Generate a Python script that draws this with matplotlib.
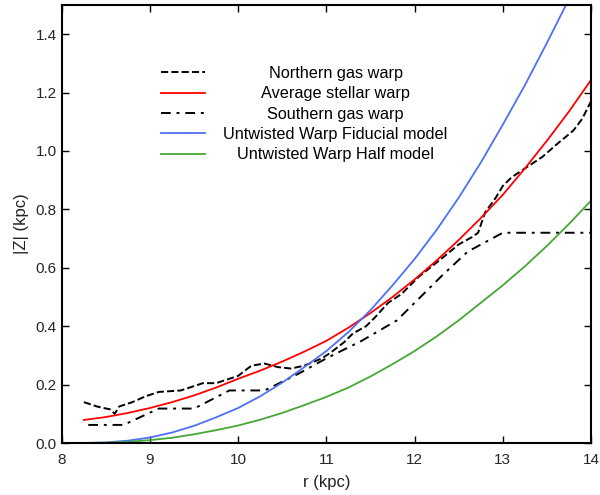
import matplotlib
matplotlib.use('Agg')
import matplotlib.pyplot as plt

plt.rcParams['font.family'] = ['Liberation Sans', 'DejaVu Sans']

# radius grid for the smooth curves (kpc)
r_model = [8.25, 8.5, 8.75, 9.0, 9.25, 9.5, 9.75, 10.0, 10.25, 10.5, 10.75, 11.0,
           11.25, 11.5, 11.75, 12.0, 12.25, 12.5, 12.75, 13.0, 13.25, 13.5, 13.75, 14.0]

z_stellar = [0.079, 0.089, 0.103, 0.120, 0.140, 0.163, 0.190, 0.220, 0.248, 0.279, 0.313, 0.350,
             0.395, 0.445, 0.500, 0.560, 0.625, 0.695, 0.770, 0.850, 0.940, 1.035, 1.135, 1.243]

z_fiducial = [0.0, 0.002, 0.008, 0.019, 0.036, 0.059, 0.088, 0.120, 0.160, 0.207, 0.260, 0.315,
              0.380, 0.455, 0.540, 0.630, 0.730, 0.840, 0.960, 1.090, 1.225, 1.37, 1.52, 1.68]

z_half = [0.0, 0.001, 0.004, 0.010, 0.018, 0.030, 0.044, 0.060, 0.080, 0.103, 0.130, 0.158,
          0.190, 0.228, 0.270, 0.315, 0.365, 0.420, 0.480, 0.540, 0.605, 0.675, 0.750, 0.830]

# northern gas warp
r_north = [8.25, 8.4, 8.55, 8.6, 8.65, 8.8, 8.95, 9.1, 9.35, 9.6, 9.75, 9.85, 10.0, 10.15,
           10.3, 10.45, 10.6, 10.75, 10.95, 11.05, 11.2, 11.3, 11.45, 11.55, 11.7, 11.85,
           12.05, 12.3, 12.5, 12.65, 12.72, 12.8, 12.92, 13.0, 13.1, 13.3, 13.45, 13.6,
           13.8, 13.9, 14.0]
z_north = [0.14, 0.125, 0.115, 0.10, 0.125, 0.14, 0.16, 0.175, 0.18, 0.205, 0.205, 0.215,
           0.23, 0.265, 0.272, 0.26, 0.255, 0.265, 0.29, 0.31, 0.345, 0.375, 0.40, 0.43,
           0.48, 0.51, 0.57, 0.63, 0.68, 0.705, 0.72, 0.79, 0.84, 0.88, 0.91, 0.95, 0.98,
           1.02, 1.07, 1.11, 1.17]

# southern gas warp
r_south = [8.3, 8.7, 9.1, 9.5, 9.9, 10.3, 10.7, 11.0, 11.4, 11.8, 12.0, 12.3, 12.6, 13.0, 14.0]
z_south = [0.062, 0.062, 0.118, 0.118, 0.18, 0.18, 0.24, 0.29, 0.35, 0.42, 0.48, 0.57,
           0.655, 0.72, 0.72]

labels = ['Northern gas warp', 'Average stellar warp', 'Southern gas warp',
          'Untwisted Warp Fiducial model', 'Untwisted Warp Half model']

fig = plt.figure(figsize=(6, 4.95), dpi=100)
ax = fig.add_axes([0.103, 0.105, 0.882, 0.885])

ax.plot(r_north, z_north, color='black', lw=1.4, ls='--', label=labels[0])
ax.plot(r_model, z_stellar, color='#ff0000', lw=1.3, label=labels[1])
ax.plot(r_south, z_south, color='black', lw=1.4, ls=(0, (5, 3, 1.5, 3)), label=labels[2])
ax.plot(r_model, z_fiducial, color='#4f70f5', lw=1.3, label=labels[3])
ax.plot(r_model, z_half, color='#44a832', lw=1.3, label=labels[4])

ax.set_xlim(8, 14)
ax.set_ylim(0, 1.5)
ax.set_yticks([0.0, 0.2, 0.4, 0.6, 0.8, 1.0, 1.2, 1.4])
ax.set_xlabel('r (kpc)', fontsize=12, color='#222222', labelpad=6)
ax.set_ylabel('|Z| (kpc)', fontsize=12, color='#222222', labelpad=5)
ax.tick_params(direction='in', top=True, right=True, length=5, width=1,
               labelsize=11, labelcolor='#262626')
ax.tick_params(axis='x', pad=7)
for s in ax.spines.values():
    s.set_linewidth(1.5)

leg = ax.legend(loc='upper left', bbox_to_anchor=(0.187, 0.861), frameon=False,
                fontsize=11.7, handlelength=2.75, handletextpad=1.11, labelspacing=0.33,
                borderpad=0, borderaxespad=0)

# centre the legend texts in their column
fig.canvas.draw()
rend = fig.canvas.get_renderer()
texts = leg.get_texts()
widths = [t.get_window_extent(rend).width for t in texts]
wmax = max(widths)
for t, w in zip(texts, widths):
    t.set_position(((wmax - w) / 2, 0))

fig.savefig('out.png', dpi=100)
